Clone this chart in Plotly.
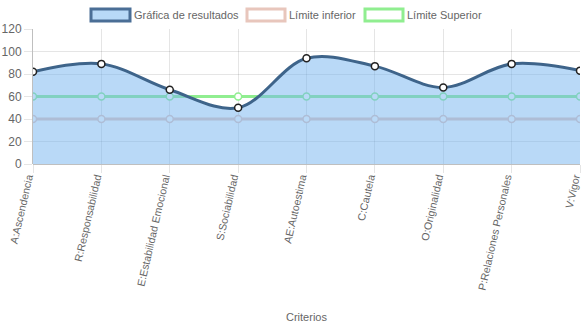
import plotly.graph_objects as go

# Criteria on the x axis and the scores for each one
criterios = [
    "A:Ascendencia",
    "R:Responsabilidad",
    "E:Estabilidad Emocional",
    "S:Sociabilidad",
    "AE:Autoestima",
    "C:Cautela",
    "O:Originalidad",
    "P:Relaciones Personales",
    "V:Vigor",
]
resultados = [82, 89, 66, 50, 94, 87, 68, 89, 83]
limite_inferior = [40, 40, 40, 40, 40, 40, 40, 40, 40]
limite_superior = [60, 60, 60, 60, 60, 60, 60, 60, 60]
y_ticks = [0, 20, 40, 60, 80, 100, 120]

W, H = 583, 328
ML, MR, MT, MB = 33, 3, 29, 164

FONT = "Liberation Sans, Arial, Helvetica, sans-serif"
GREY = "#666666"

C_RES_LINE = "rgb(62,100,138)"
C_RES_FILL = "rgba(115,180,240,0.5)"
C_INF = "rgb(232,198,188)"
C_SUP = "rgb(144,238,144)"

fig = go.Figure()

# Limit lines first so the results fill sits on top of them
fig.add_trace(go.Scatter(
    x=criterios, y=limite_inferior, mode="lines+markers", name="Límite inferior",
    line=dict(color=C_INF, width=3),
    marker=dict(size=7, color="white", line=dict(color=C_INF, width=1.5)),
    showlegend=False, hoverinfo="skip",
))
fig.add_trace(go.Scatter(
    x=criterios, y=limite_superior, mode="lines+markers", name="Límite Superior",
    line=dict(color=C_SUP, width=3),
    marker=dict(size=7, color="white", line=dict(color=C_SUP, width=1.5)),
    showlegend=False, hoverinfo="skip",
))
fig.add_trace(go.Scatter(
    x=criterios, y=resultados, mode="lines+markers", name="Gráfica de resultados",
    line=dict(color=C_RES_LINE, width=3, shape="spline", smoothing=1),
    fill="tozeroy", fillcolor=C_RES_FILL,
    marker=dict(size=7, color="white", line=dict(color="#222", width=1.5)),
    showlegend=False, hoverinfo="skip",
))

pw = W - ML - MR
ph = H - MT - MB


def px_x(p):
    return (p - ML) / pw


def px_y(p):
    return (H - MB - p) / ph


# Legend drawn as boxes with labels above the plot
legend_items = [
    ("Gráfica de resultados", 91, 130, "rgb(184,217,247)", "rgb(74,110,150)"),
    ("Límite inferior", 247, 285, "white", C_INF),
    ("Límite Superior", 365, 403, "white", C_SUP),
]
shapes = []
annotations = []
for label, x0, x1, fillc, linec in legend_items:
    shapes.append(dict(
        type="rect", xref="paper", yref="paper",
        x0=px_x(x0), x1=px_x(x1), y0=px_y(21), y1=px_y(9),
        fillcolor=fillc, line=dict(color=linec, width=3), layer="above",
    ))
    annotations.append(dict(
        text=label, xref="paper", yref="paper", x=px_x(x1 + 2), y=px_y(15),
        xanchor="left", yanchor="middle", showarrow=False,
        font=dict(family=FONT, size=11, color=GREY),
    ))

# Axis title below the rotated tick labels
annotations.append(dict(
    text="Criterios", xref="paper", yref="paper", x=0.5, y=px_y(317),
    xanchor="center", yanchor="middle", showarrow=False,
    font=dict(family=FONT, size=11, color=GREY),
))

fig.update_layout(
    width=W, height=H,
    margin=dict(l=ML, r=MR, t=MT, b=MB, pad=0),
    paper_bgcolor="white", plot_bgcolor="white",
    font=dict(family=FONT, size=12, color=GREY),
    shapes=shapes, annotations=annotations,
    showlegend=False,
)
fig.update_xaxes(
    type="category", range=[0, len(criterios) - 1], automargin=False,
    showgrid=True, gridcolor="rgba(0,0,0,0.1)", gridwidth=1,
    ticks="outside", ticklen=8, tickcolor="rgba(0,0,0,0.1)",
    tickangle=-77, tickfont=dict(family=FONT, size=10.6, color=GREY),
    ticklabelstandoff=-6, ticklabelshift=-5,
    showline=False, zeroline=False,
)
fig.update_yaxes(
    range=[0, 120], tickvals=y_ticks, automargin=False,
    showgrid=True, gridcolor="rgba(0,0,0,0.1)", gridwidth=1,
    ticks="outside", ticklen=8, tickcolor="rgba(0,0,0,0.1)",
    tickfont=dict(family=FONT, size=12, color=GREY),
    showline=True, linecolor="rgba(0,0,0,0.25)", linewidth=1,
    zeroline=True, zerolinecolor="rgba(0,0,0,0.25)", zerolinewidth=1,
)

fig.write_html("out.html")
